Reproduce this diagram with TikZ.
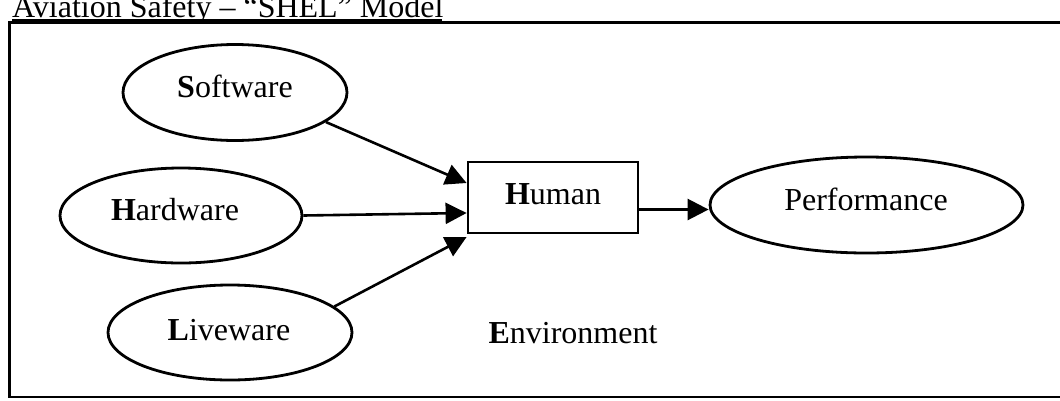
\documentclass[tikz,border=0pt]{standalone}
\usepackage{fontspec}
\setmainfont{Liberation Serif}
\usetikzlibrary{shapes.geometric,arrows.meta}

\begin{document}
\begin{tikzpicture}[x=1pt,y=-1pt,
  oval/.style={draw, ellipse, line width=2.8pt, inner sep=0pt},
  hbox/.style={draw, rectangle, line width=2.8pt, inner sep=0pt},
  lbl/.style={anchor=base, font=\fontsize{32}{36}\selectfont, inner sep=0pt},
  conn/.style={line width=2.6pt, -{Triangle[length=21pt,width=21pt]}},
]
\useasboundingbox (0,0) rectangle (1060,400);

% title (top part runs off the page) and its underline
\node[lbl, anchor=base west] (title) at (12,17) {Aviation Safety -- “SHEL” Model};
\draw[line width=1.8pt] (12,20) -- (442,20);

% outer frame; its right edge lies past the page
\draw[line width=2.4pt] (1075,22.5) -- (9.5,22.5) -- (9.5,397) -- (1075,397);

% S, H, L ovals
\node[oval, minimum width=224pt, minimum height=96pt] (sw) at (235,92.5) {};
\node[oval, minimum width=242pt, minimum height=95pt] (hw) at (181,215.5) {};
\node[oval, minimum width=244pt, minimum height=95pt] (lw) at (230,332.5) {};

% human box and performance oval
\node[hbox, minimum width=170pt, minimum height=71pt] (hb) at (553,197.5) {};
\node[oval, minimum width=313pt, minimum height=96pt] (pf) at (866.5,205) {};

% labels
\node[lbl] (swt) at (235,97) {{\bfseries S}oftware};
\node[lbl] (hwt) at (175,220) {{\bfseries H}ardware};
\node[lbl] (lwt) at (229,340) {{\bfseries L}iveware};
\node[lbl] (hbt) at (553,204) {{\bfseries H}uman};
\node[lbl] (pft) at (866,210) {Performance};
\node[lbl] (env) at (573,343) {{\bfseries E}nvironment};

% entry points on the human box
\coordinate (in1) at ([yshift=14.5pt]hb.west);
\coordinate (in2) at ([yshift=-15.5pt]hb.west);
\coordinate (in3) at ([yshift=-39.5pt]hb.west);
\coordinate (out) at ([yshift=-12pt]hb.east);

% connectors
\draw[conn] (sw.-18) -- (in1);
\draw[conn] (hw.east) -- (in2);
\draw[conn] (lw.14) -- (in3);
\draw[conn] (out) -- (out -| pf.west);
\end{tikzpicture}
\end{document}
